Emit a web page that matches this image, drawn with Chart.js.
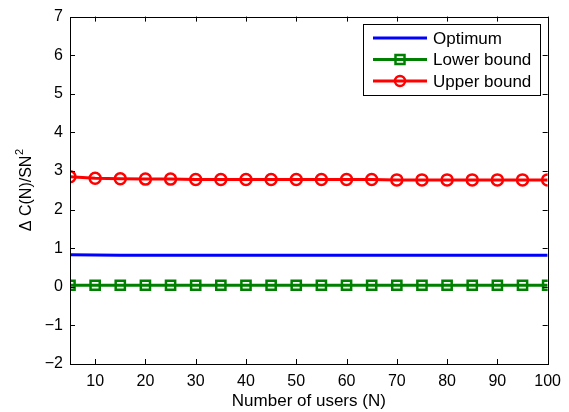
<!DOCTYPE html>
<html>
<head>
    <title>Delta C(N)</title>
    <script src="https://cdn.jsdelivr.net/npm/chart.js"></script>
    <style>
        * { margin: 0; padding: 0; box-sizing: border-box; }
        body { background: #fff; }
        #wrap { width: 569px; height: 412px; position: relative; }
    </style>
</head>
<body>
    <div id="wrap"><canvas id="chart"></canvas></div>
    <script>
        // dados
        var users = [5, 10, 15, 20, 25, 30, 35, 40, 45, 50, 55, 60, 65, 70, 75, 80, 85, 90, 95, 100];
        var optimum = [0.83, 0.825, 0.82, 0.82, 0.82, 0.82, 0.82, 0.82, 0.82, 0.82, 0.82, 0.82, 0.82, 0.82, 0.815, 0.815, 0.815, 0.815, 0.815, 0.815];
        var lowerBound = [0.04, 0.04, 0.04, 0.04, 0.04, 0.04, 0.04, 0.04, 0.04, 0.04, 0.04, 0.04, 0.04, 0.04, 0.04, 0.04, 0.04, 0.04, 0.04, 0.04];
        var upperBound = [2.85, 2.81, 2.80, 2.79, 2.79, 2.78, 2.78, 2.78, 2.78, 2.78, 2.78, 2.78, 2.78, 2.77, 2.77, 2.77, 2.77, 2.77, 2.77, 2.77];
        var xTicks = [10, 20, 30, 40, 50, 60, 70, 80, 90, 100];
        var yTicks = [-2, -1, 0, 1, 2, 3, 4, 5, 6, 7];
        var seriesNames = ['Optimum', 'Lower bound', 'Upper bound'];
        var yTitle = '\u0394 C(N)/SN';
        var yTitleSup = '2';

        var FONT = '"Liberation Sans", Arial, sans-serif';

        function pts(ys) {
            return users.map(function (x, i) { return { x: x, y: ys[i] }; });
        }

        // caixa + ticks para dentro, estilo MATLAB
        var boxPlugin = {
            id: 'box',
            afterDatasetsDraw: function (chart) {
                var ctx = chart.ctx, a = chart.chartArea;
                var sx = chart.scales.x, sy = chart.scales.y;
                ctx.save();
                ctx.strokeStyle = '#000';
                ctx.lineWidth = 1;
                ctx.strokeRect(Math.round(a.left) + 0.5, Math.round(a.top) + 0.5,
                    Math.round(a.right - a.left), Math.round(a.bottom - a.top));
                ctx.beginPath();
                xTicks.forEach(function (v) {
                    var px = Math.round(sx.getPixelForValue(v)) + 0.5;
                    ctx.moveTo(px, a.bottom); ctx.lineTo(px, a.bottom - 5);
                    ctx.moveTo(px, a.top); ctx.lineTo(px, a.top + 5);
                });
                yTicks.forEach(function (v) {
                    var py = Math.round(sy.getPixelForValue(v)) + 0.5;
                    ctx.moveTo(a.left, py); ctx.lineTo(a.left + 5, py);
                    ctx.moveTo(a.right, py); ctx.lineTo(a.right - 5, py);
                });
                ctx.stroke();
                ctx.restore();
            },
            afterDraw: function (chart) {
                var ctx = chart.ctx, a = chart.chartArea;

                // titulo do eixo y com expoente
                ctx.save();
                ctx.translate(25, (a.top + a.bottom) / 2);
                ctx.rotate(-Math.PI / 2);
                ctx.fillStyle = '#000';
                ctx.textBaseline = 'middle';
                ctx.font = '16px ' + FONT;
                var w1 = ctx.measureText(yTitle).width;
                ctx.font = '11px ' + FONT;
                var w2 = ctx.measureText(yTitleSup).width;
                var x0 = -(w1 + w2) / 2;
                ctx.font = '16px ' + FONT;
                ctx.fillText(yTitle, x0, 2);
                ctx.font = '11px ' + FONT;
                ctx.fillText(yTitleSup, x0 + w1 + 0.5, -5);
                ctx.restore();

                // legenda desenhada à mão
                var bx = 363, by = 24, bw = 177, bh = 71;
                ctx.save();
                ctx.fillStyle = '#fff';
                ctx.fillRect(bx, by, bw, bh);
                ctx.strokeStyle = '#000';
                ctx.lineWidth = 1;
                ctx.strokeRect(bx + 0.5, by + 0.5, bw, bh);
                ctx.font = '17px ' + FONT;
                ctx.textBaseline = 'middle';
                chart.data.datasets.forEach(function (ds, i) {
                    var yy = by + 14 + i * 21.5;
                    ctx.strokeStyle = ds.borderColor;
                    ctx.lineWidth = 3;
                    ctx.beginPath();
                    ctx.moveTo(373, yy); ctx.lineTo(427, yy);
                    ctx.stroke();
                    if (ds.pointStyle === 'rect') {
                        ctx.lineWidth = 2.5;
                        ctx.strokeRect(400 - 4.5, yy - 4.5, 9, 9);
                    } else if (ds.pointStyle === 'circle' && ds.pointRadius > 0) {
                        ctx.lineWidth = 2.5;
                        ctx.beginPath();
                        ctx.arc(400, yy, 5, 0, Math.PI * 2);
                        ctx.stroke();
                    }
                    ctx.fillStyle = '#000';
                    ctx.fillText(ds.label, 433, yy + 1);
                });
                ctx.restore();
            }
        };

        var ctx = document.getElementById('chart').getContext('2d');
        var chart = new Chart(ctx, {
            type: 'line',
            data: {
                datasets: [{
                    label: seriesNames[0],
                    data: pts(optimum),
                    borderColor: '#0000ff',
                    borderWidth: 3,
                    pointRadius: 0,
                    pointStyle: 'circle'
                }, {
                    label: seriesNames[1],
                    data: pts(lowerBound),
                    borderColor: '#008000',
                    borderWidth: 3,
                    pointStyle: 'rect',
                    pointRadius: 6.5,
                    pointBorderWidth: 2.5,
                    pointBackgroundColor: 'rgba(0,0,0,0)'
                }, {
                    label: seriesNames[2],
                    data: pts(upperBound),
                    borderColor: '#ff0000',
                    borderWidth: 3,
                    pointStyle: 'circle',
                    pointRadius: 5.5,
                    pointBorderWidth: 2.5,
                    pointBackgroundColor: 'rgba(0,0,0,0)'
                }]
            },
            options: {
                responsive: true,
                maintainAspectRatio: false,
                animation: false,
                layout: { padding: { top: 15, right: 21, left: 0, bottom: 0 } },
                plugins: {
                    legend: { display: false },
                    tooltip: { enabled: false }
                },
                scales: {
                    x: {
                        type: 'linear',
                        min: 5,
                        max: 100,
                        afterBuildTicks: function (s) { s.ticks = xTicks.map(function (v) { return { value: v }; }); },
                        afterFit: function (s) { s.height = 48; },
                        grid: { display: false, drawTicks: false },
                        border: { display: false },
                        ticks: {
                            color: '#000',
                            padding: 8,
                            maxRotation: 0,
                            font: { family: FONT, size: 16 }
                        },
                        title: {
                            display: true,
                            text: 'Number of users (N)',
                            color: '#000',
                            font: { family: FONT, size: 17 },
                            padding: { top: 0, bottom: 0 }
                        }
                    },
                    y: {
                        min: -2,
                        max: 7,
                        afterBuildTicks: function (s) { s.ticks = yTicks.map(function (v) { return { value: v }; }); },
                        afterFit: function (s) { s.width = 70; },
                        grid: { display: false, drawTicks: false },
                        border: { display: false },
                        ticks: {
                            color: '#000',
                            padding: 7,
                            font: { family: FONT, size: 16 },
                            callback: function (v) { return String(v).replace('-', '\u2212'); }
                        },
                        title: { display: false }
                    }
                }
            },
            plugins: [boxPlugin]
        });
    </script>
</body>
</html>
